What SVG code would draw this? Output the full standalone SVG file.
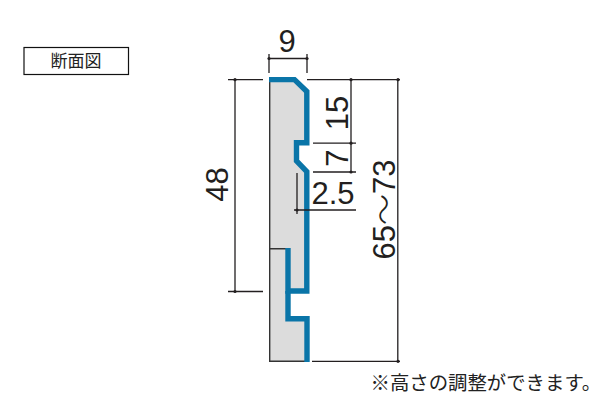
<svg xmlns="http://www.w3.org/2000/svg" width="600" height="400" viewBox="0 0 600 400">
<style>
.dim{fill:none;stroke:#231f20;stroke-width:1.3}
.dot{fill:#231f20}
.num{font-family:"Liberation Sans",Arial,sans-serif;font-size:31px;fill:#231f20}
.jp{font-family:"Noto Sans CJK JP",sans-serif;fill:#222}
.band{fill:none;stroke:#0a75a8;stroke-width:5.4;stroke-linejoin:miter}
</style>
<rect width="600" height="400" fill="#fff"/>
<g id="label">
<rect x="24" y="47.5" width="104.5" height="27" fill="#fff" stroke="#111" stroke-width="1.2"/>
<text class="jp" x="76" y="67" font-size="17" text-anchor="middle">断面図</text>
</g>
<g id="section">
<path d="M269.5 78H294L307 91V143H296.5V161L307 171V291H288V248.5H269.5V78Z" fill="#dcdcdc"/>
<path d="M269.5 248.5H288V319H307V361H269.5Z" fill="#dcdcdc"/>
<path d="M269.7 81V361.3H306M269.7 248.7H286" fill="none" stroke="#333" stroke-width="1.4"/>
<path class="band" d="M269 79.6H294.5L306.8 91.5V142.8H296.5V161L306.8 171.5V291H288V248"/>
<path class="band" d="M288 291V318.8H307V362"/>
</g>
<g id="connectors">
<path class="dim" d="M269 54V73M307 54V73M269 58.5H307"/>
<path class="dim" d="M228 79.7H263M228 291.5H263M235 79.7V291.5"/>
<path class="dim" d="M307 79.7H400M312 361.3H400M397.8 79.7V361.3"/>
<path class="dim" d="M351 79.7V172M313 143.2H356M313 172H356"/>
<path class="dim" d="M297 173V214M294 210H356"/>
<g class="dot">
<circle cx="269" cy="58.5" r="1.6"/><circle cx="307" cy="58.5" r="1.6"/>
<circle cx="235" cy="79.7" r="1.6"/><circle cx="235" cy="291.5" r="1.6"/>
<circle cx="351" cy="79.7" r="1.6"/><circle cx="398" cy="79.7" r="1.6"/><circle cx="398" cy="361.3" r="1.6"/>
<circle cx="351" cy="143.2" r="1.6"/><circle cx="351" cy="172" r="1.6"/><circle cx="297" cy="210" r="1.6"/>
</g>
</g>
<g id="labels">
<text class="num" x="287" y="52" text-anchor="middle">9</text>
<text class="num" transform="translate(348 113) rotate(-90)" text-anchor="middle">15</text>
<text class="num" transform="translate(348 158) rotate(-90)" text-anchor="middle">7</text>
<text class="num" x="333" y="204" text-anchor="middle">2.5</text>
<text class="num" transform="translate(228 184.5) rotate(-90)" text-anchor="middle">48</text>
<text class="num" transform="translate(395 209.5) rotate(-90)" text-anchor="middle">65<tspan style="font-family:'Noto Sans CJK JP',sans-serif;font-weight:300">〜</tspan>73</text>
<text class="jp" x="370.5" y="389.5" font-size="19.4">※高さの調整ができます。</text>
</g>
</svg>
